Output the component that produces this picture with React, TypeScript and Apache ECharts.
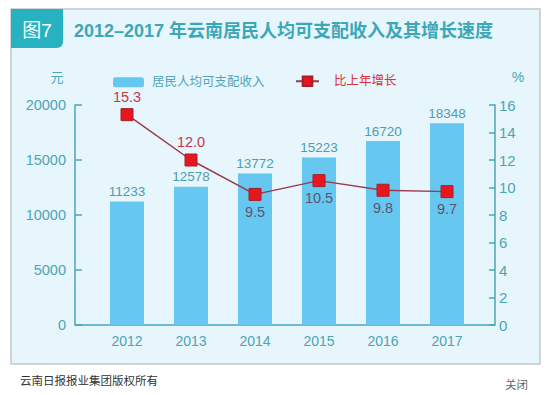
import React, { useEffect, useRef } from "react";
import * as echarts from "echarts";

const categories = ["2012", "2013", "2014", "2015", "2016", "2017"];
const incomeValues = [11233, 12578, 13772, 15223, 16720, 18348];
const growthValues = [15.3, 12.0, 9.5, 10.5, 9.8, 9.7];
const growthLabelAbove = [true, true, false, false, false, false];
const leftTicks = { min: 0, max: 20000, interval: 5000 };
const rightTicks = { min: 0, max: 16, interval: 2 };

const FONT = "'Liberation Sans', 'Noto Sans CJK SC', sans-serif";
const AXIS_COLOR = "#4aa6b6";
const BAR_COLOR = "#66c8f0";

export default function App() {
  const ref = useRef<HTMLDivElement>(null);
  useEffect(() => {
    if (!ref.current) return;
    const chart = echarts.init(ref.current, null, { renderer: "svg" });
    const option: any = {
      animation: false,
      backgroundColor: "#ffffff",
      textStyle: { fontFamily: FONT },
      graphic: [
        {
          type: "rect",
          shape: { x: 11, y: 9, width: 529, height: 355 },
          style: { fill: "#e7f5fc", stroke: "#c4c8cc", lineWidth: 1.5 },
          z: -10,
        },
        {
          type: "rect",
          shape: { x: 11, y: 9, width: 52, height: 39, r: [0, 0, 6, 0] },
          style: { fill: "#27b2c2" },
          z: -9,
        },
        {
          type: "text",
          x: 37,
          y: 30,
          style: {
            text: "图7",
            fill: "#ffffff",
            font: `19px ${FONT}`,
            textAlign: "center",
            textVerticalAlign: "middle",
          },
        },
        {
          type: "text",
          x: 74,
          y: 31,
          style: {
            text: "2012–2017 年云南居民人均可支配收入及其增长速度",
            fill: "#3aa8b8",
            font: `bold 18px ${FONT}`,
            textAlign: "left",
            textVerticalAlign: "middle",
          },
        },
        {
          type: "text",
          x: 57,
          y: 77,
          style: {
            text: "元",
            fill: AXIS_COLOR,
            font: `13px ${FONT}`,
            textAlign: "center",
            textVerticalAlign: "middle",
          },
        },
        {
          type: "text",
          x: 518,
          y: 77,
          style: {
            text: "%",
            fill: AXIS_COLOR,
            font: `14px ${FONT}`,
            textAlign: "center",
            textVerticalAlign: "middle",
          },
        },
        {
          type: "line",
          shape: { x1: 75, y1: 325, x2: 495, y2: 325 },
          style: { stroke: AXIS_COLOR, lineWidth: 1.5 },
        },
        {
          type: "text",
          x: 20,
          y: 381,
          style: {
            text: "云南日报报业集团版权所有",
            fill: "#333333",
            font: `11.5px ${FONT}`,
            textAlign: "left",
            textVerticalAlign: "middle",
          },
        },
        {
          type: "text",
          x: 505,
          y: 385,
          style: {
            text: "关闭",
            fill: "#666666",
            font: `11.5px ${FONT}`,
            textAlign: "left",
            textVerticalAlign: "middle",
          },
        },
      ],
      legend: [
        {
          left: 108,
          top: 71,
          itemWidth: 31,
          itemHeight: 10,
          itemGap: 0,
          data: [
            {
              name: "居民人均可支配收入",
              textStyle: { color: "#4fa6bd" },
            },
          ],
          textStyle: { fontSize: 12.5, fontFamily: FONT, padding: [0, 0, 0, 3] },
        },
        {
          left: 290,
          top: 70,
          itemWidth: 23,
          itemHeight: 12,
          data: [
            {
              name: "比上年增长",
              textStyle: { color: "#d8303a" },
            },
          ],
          textStyle: { fontSize: 12.5, fontFamily: FONT, padding: [0, 0, 0, 10] },
        },
      ],
      grid: { left: 95, right: 71, top: 105, bottom: 70 },
      xAxis: {
        type: "category",
        data: categories,
        boundaryGap: true,
        axisLine: { show: false },
        axisTick: { show: false },
        axisLabel: { color: AXIS_COLOR, fontSize: 14, margin: 9 },
      },
      yAxis: [
        {
          type: "value",
          min: leftTicks.min,
          max: leftTicks.max,
          interval: leftTicks.interval,
          offset: 20,
          position: "left",
          splitLine: { show: false },
          axisLine: { show: true, lineStyle: { color: AXIS_COLOR, width: 1.5 } },
          axisTick: { show: true, inside: true, length: 7, lineStyle: { color: AXIS_COLOR, width: 1.5 } },
          axisLabel: {
            color: AXIS_COLOR,
            fontSize: 14.5,
            margin: 9,
            formatter: (v: number) => String(v),
          },
        },
        {
          type: "value",
          min: rightTicks.min,
          max: rightTicks.max,
          interval: rightTicks.interval,
          offset: 16,
          position: "right",
          splitLine: { show: false },
          axisLine: { show: true, lineStyle: { color: AXIS_COLOR, width: 1.5 } },
          axisTick: { show: true, inside: true, length: 6, lineStyle: { color: AXIS_COLOR, width: 1.5 } },
          axisLabel: { color: AXIS_COLOR, fontSize: 15, margin: 4 },
        },
      ],
      series: [
        {
          name: "居民人均可支配收入",
          type: "bar",
          data: incomeValues,
          barWidth: 34,
          itemStyle: { color: BAR_COLOR },
          label: {
            show: true,
            position: "top",
            distance: 3,
            color: "#4d9db3",
            fontSize: 13.5,
          },
        },
        {
          name: "比上年增长",
          type: "line",
          yAxisIndex: 1,
          data: growthValues.map((v, i) => ({
            value: v,
            label: growthLabelAbove[i]
              ? { position: "top", color: "#c23a48", distance: 4 }
              : { position: "bottom", color: "#5f5470", distance: 4 },
          })),
          symbol: "rect",
          symbolSize: 12,
          lineStyle: { color: "#9a3a4c", width: 1.5 },
          itemStyle: { color: "#e8161f", borderColor: "#a3202c", borderWidth: 1 },
          label: {
            show: true,
            fontSize: 14.5,
            formatter: (p: any) => Number(p.value).toFixed(1),
          },
          z: 5,
        },
      ],
    };
    chart.setOption(option);
    return () => chart.dispose();
  }, []);
  return (
    <div
      ref={ref}
      style={{ position: "fixed", left: 0, top: 0, width: 550, height: 395 }}
    />
  );
}
